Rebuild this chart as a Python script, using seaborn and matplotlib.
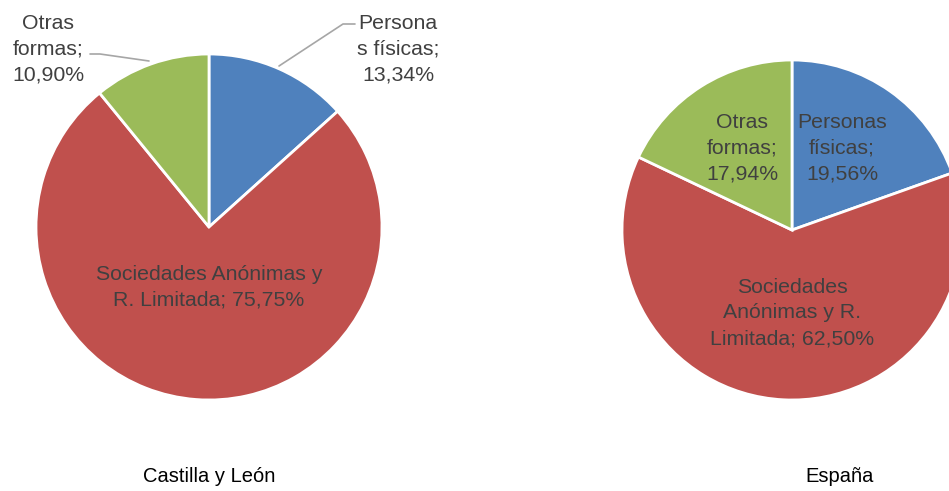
import matplotlib
matplotlib.use("Agg")
import matplotlib.pyplot as plt
import seaborn as sns

# data
categorias = ["Personas físicas", "Sociedades Anónimas y R. Limitada", "Otras formas"]
castilla_leon = [13.34, 75.75, 10.90]
espana = [19.56, 62.50, 17.94]
regiones = ["Castilla y León", "España"]

colores = ["#4F81BD", "#C0504D", "#9BBB59"]
texto = "#404040"

sns.set_theme(style="white")
plt.rcParams["font.family"] = ["Liberation Sans", "DejaVu Sans"]

W, H = 949, 491
fig = plt.figure(figsize=(W / 100, H / 100), dpi=100)


def pie_axes(cx, cy, r, values):
    # cx, cy in pixels from top-left
    ax = fig.add_axes([(cx - r) / W, (H - cy - r) / H, 2 * r / W, 2 * r / H])
    ax.pie(values, colors=colores, startangle=90, counterclock=False,
           radius=1, wedgeprops={"edgecolor": "white", "linewidth": 2})
    ax.set_xlim(-1, 1)
    ax.set_ylim(-1, 1)
    ax.set_aspect("equal")
    ax.axis("off")
    return ax


def fmt(v):
    return f"{v:.2f}".replace(".", ",") + "%"


fs = 15.3
ls = 1.46

# ----- Castilla y León -----
ax1 = pie_axes(209, 227, 173, castilla_leon)

fig.text(398 / W, 1 - 49 / H, "Persona\ns físicas;\n" + fmt(castilla_leon[0]),
         ha="center", va="center", fontsize=fs, color=texto, linespacing=ls)
fig.text(48 / W, 1 - 49 / H, "Otras\nformas;\n" + fmt(castilla_leon[2]),
         ha="center", va="center", fontsize=fs, color=texto, linespacing=ls)
fig.text(209 / W, 1 - 287 / H, "Sociedades Anónimas y\nR. Limitada; " + fmt(castilla_leon[1]),
         ha="center", va="center", fontsize=fs, color=texto, linespacing=ls)

# leader lines (figure pixel coords)
for pts in ([(279, 66), (343, 24), (355, 24)], [(149, 61), (100, 54), (90, 54)]):
    xs = [p[0] / W for p in pts]
    ys = [1 - p[1] / H for p in pts]
    fig.add_artist(plt.Line2D(xs, ys, color="#A6A6A6", linewidth=1.2))

# ----- España -----
ax2 = pie_axes(792, 230, 170, espana)

fig.text(842 / W, 1 - 148 / H, "Personas\nfísicas;\n" + fmt(espana[0]),
         ha="center", va="center", fontsize=fs, color=texto, linespacing=ls)
fig.text(742 / W, 1 - 148 / H, "Otras\nformas;\n" + fmt(espana[2]),
         ha="center", va="center", fontsize=fs, color=texto, linespacing=ls)
fig.text(792 / W, 1 - 313 / H, "Sociedades\nAnónimas y R.\nLimitada; " + fmt(espana[1]),
         ha="center", va="center", fontsize=fs, color=texto, linespacing=ls)

# titles
fig.text(209 / W, 1 - 477 / H, regiones[0], ha="center", va="center", fontsize=14.5, color="black")
fig.text(840 / W, 1 - 477 / H, regiones[1], ha="center", va="center", fontsize=14.5, color="black")

fig.savefig("out.png", dpi=100, facecolor="white")
